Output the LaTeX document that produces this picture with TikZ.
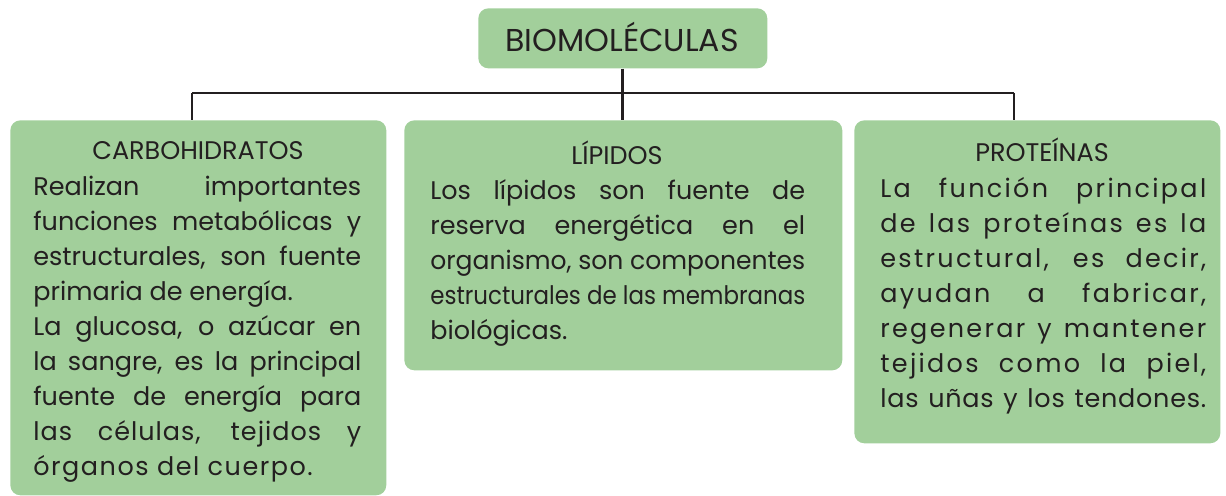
\documentclass[tikz,border=0pt]{standalone}
\usepackage{fontspec}
\usepackage{graphicx}
\setmainfont{Poppins}
\definecolor{verde}{RGB}{162,207,155}
\definecolor{tinta}{RGB}{35,31,32}
% renglon justificado (se comprime si no cabe)
\newsavebox\renglonbox
\newcommand{\renglon}[1]{\sbox\renglonbox{#1}%
  \ifdim\wd\renglonbox>\hsize\resizebox{\hsize}{\height}{#1}%
  \else\spaceskip=0pt\xspaceskip=0pt\makebox[\hsize][s]{#1}\fi\\}
\tikzset{
  caja/.style={fill=verde, rounded corners=0.2cm, anchor=north west, inner sep=0pt},
  titulo/.style={text=tinta, font=\fontsize{14.5}{17}\selectfont, anchor=base, inner sep=0pt},
  texto/.style={text=tinta, font=\fontsize{14.5}{19.92}\selectfont, anchor=base west, inner sep=0pt},
  linea/.style={draw=tinta, line width=1.6pt}
}
\begin{document}
\begin{tikzpicture}[x=0.02cm, y=-0.02cm]
\useasboundingbox (0,0) rectangle (1226,496);

% Cajas
\node[caja, minimum width=5.78cm, minimum height=1.2cm] (bio) at (478,8) {};
\node[caja, minimum width=7.52cm, minimum height=7.5cm] (carb) at (10,120) {};
\node[caja, minimum width=8.76cm, minimum height=5cm] (lip) at (404,120) {};
\node[caja, minimum width=7.32cm, minimum height=6.46cm] (prot) at (854,120) {};

% Conectores
\coordinate (izq) at (192,93);
\coordinate (der) at (1014,93);
\draw[linea] (bio.south) -- (bio.south |- lip.north);
\draw[linea] (izq) -- (der);
\draw[linea] (izq) -- (izq |- carb.north);
\draw[linea] (der) -- (der |- prot.north);

% Titulos
\node[titulo, font=\fontsize{18}{20}\selectfont] (bioT) at (622,52) {BIOMOLÉCULAS};
\node[titulo] (carbT) at (198,160) {CARBOHIDRATOS};
\node[titulo] (lipT) at (617,165) {LÍPIDOS};
\node[titulo] (protT) at (1042,162) {PROTEÍNAS};

% Textos
\node[texto, text width=6.56cm] (carbX) at (33,196) {%
\renglon{Realizan importantes}%
\renglon{funciones metabólicas y}%
\renglon{estructurales, son fuente}%
primaria de energía.\\
\renglon{La glucosa, o azúcar en}%
\renglon{la sangre, es la principal}%
\renglon{fuente de energía para}%
\renglon{\addfontfeatures{LetterSpace=4}las células, tejidos y}%
{\addfontfeatures{LetterSpace=6}órganos del cuerpo.}};

\node[texto, text width=7.5cm] (lipX) at (430,200) {%
\renglon{Los lípidos son fuente de}%
\renglon{reserva energética en el}%
\renglon{organismo, son componentes}%
\renglon{estructurales de las membranas}%
biológicas.};

\node[texto, text width=6.52cm, font=\fontsize{14.5}{19.92}\selectfont\addfontfeatures{LetterSpace=9}] (protX) at (880,198) {%
\renglon{La función principal}%
\renglon{de las proteínas es la}%
\renglon{estructural, es decir,}%
\renglon{ayudan a fabricar,}%
\renglon{regenerar y mantener}%
\renglon{tejidos como la piel,}%
\renglon{\addfontfeatures{LetterSpace=3}las uñas y los tendones.}};
\end{tikzpicture}
\end{document}
